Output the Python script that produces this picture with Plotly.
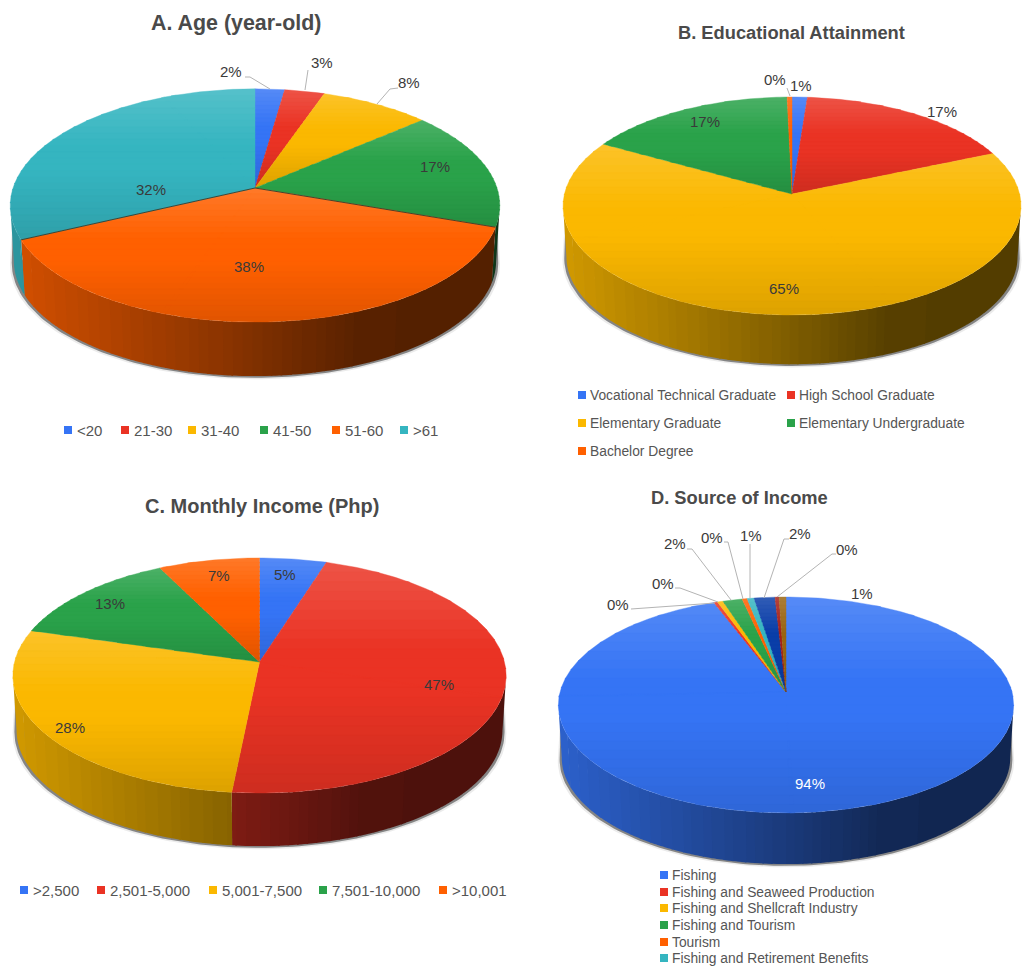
import math
import plotly.graph_objects as go

# ---------- data ----------
AGE_CATEGORIES = ["<20", "21-30", "31-40", "41-50", "51-60", ">61"]
AGE_VALUES = [2.25, 3.05, 8.4, 16.6, 37.7, 32.0]

EDU_CATEGORIES = ["Vocational Technical Graduate", "High School Graduate", "Elementary Graduate",
                  "Elementary Undergraduate", "Bachelor Degree"]
EDU_VALUES = [1.2, 17.4, 64.51, 16.51, 0.38]

INCOME_CATEGORIES = [">2,500", "2,501-5,000", "5,001-7,500", "7,501-10,000", ">10,001"]
INCOME_VALUES = [4.9, 46.7, 27.9, 13.1, 7.4]

SOURCE_CATEGORIES = ["Fishing", "Fishing and Seaweed Production", "Fishing and Shellcraft Industry",
                     "Fishing and Tourism", "Tourism", "Fishing and Retirement Benefits"]
SOURCE_VALUES = [94.22, 0.3, 0.45, 1.55, 0.4, 0.55, 1.66, 0.32, 0.55]

COLORS = ["#3574f5", "#ea3324", "#fbb800", "#2aa24a", "#ff6000", "#35b5c0", "#0a3ea8", "#a52018", "#9a6510"]

# ---------- layout of each drawing ----------
CHARTS = [
    dict(values=AGE_VALUES, cx=255, apex=188, rx=242, ry=114, k=0.15, depth=56, edged=4,
         title="A. Age (year-old)", tx=236, ty=23, tsize=21.4,
         labels=[(231, 71), (322, 62), (409, 82), (435, 166), (249, 266), (151, 189)],
         leaders=[[(245, 77), (250, 77), (270, 89)], [(308, 70), (305, 90)], [(398, 88), (390, 89), (377, 104)]]),
    dict(values=EDU_VALUES, cx=792, apex=194, rx=227.6, ry=107.7, k=0.11, depth=51, edged=None,
         title="B. Educational Attainment", tx=791, ty=32, tsize=18.3,
         labels=[(801, 85), (942, 111), (784, 288), (705, 121), (775, 79)],
         leaders=[[(787, 88), (790, 96)]]),
    dict(values=INCOME_VALUES, cx=259.5, apex=662, rx=245, ry=116, k=0.115, depth=55, edged=None,
         title="C. Monthly Income (Php)", tx=262, ty=506, tsize=20,
         labels=[(285, 574), (439, 684), (70, 727), (110, 603), (219, 575)],
         leaders=[]),
    dict(values=SOURCE_VALUES, cx=786, apex=692, rx=226, ry=106.4, k=0.12, depth=53, edged=None,
         title="D. Source of Income", tx=739, ty=497, tsize=18.3,
         labels=[(810, 783), (618, 604), (663, 583), (675, 543), (712, 537), (751, 535), (800, 533), (847, 549), (862, 593)],
         leaders=[[(631, 609), (715, 603)], [(675, 588), (680, 588), (718, 602)],
                  [(687, 549), (692, 549), (731, 600)], [(724, 542), (728, 542), (743, 599)],
                  [(750, 544), (750, 598)], [(789, 539), (784, 539), (764, 598)],
                  [(836, 554), (832, 554), (777, 597)]]),
]

LEGENDS = [
    (AGE_CATEGORIES, 15, 7, [(68, 430), (125, 430), (192, 430), (264, 430), (336, 430), (404, 430)]),
    (EDU_CATEGORIES, 13.8, 6, [(582, 395), (791, 395), (582, 423), (791, 423), (582, 451)]),
    (INCOME_CATEGORIES, 15, 7, [(24, 890), (101, 890), (213, 890), (323, 890), (443, 890)]),
    (SOURCE_CATEGORIES, 13.8, 6, [(664, 875), (664, 892), (664, 908), (664, 925), (664, 942), (664, 958)]),
]

FONT = "Liberation Sans"
fig = go.Figure()


def rgb(h):
    return tuple(int(h[i:i + 2], 16) for i in (1, 3, 5))


def hexs(c):
    return "#%02x%02x%02x" % tuple(max(0, min(255, int(round(v)))) for v in c)


def project(ch, t):
    """Perspective view of the pie's unit circle; t in degrees clockwise from the top."""
    x, y = math.sin(math.radians(t)), math.cos(math.radians(t))
    d = 1 + ch["k"] * y
    return ch["cx"] + ch["rx"] * x / d, ch["apex"] - ch["ry"] * y / d


def lower(ch, p, s=0.985):
    cy = ch["apex"]
    return ch["cx"] + (p[0] - ch["cx"]) * s, cy + (p[1] - cy) * s + ch["depth"]


def clip(poly, limit, keep_below):
    out = []
    n = len(poly)
    for i in range(n):
        a, b = poly[i], poly[(i + 1) % n]
        ina = a[1] >= limit if keep_below else a[1] <= limit
        inb = b[1] >= limit if keep_below else b[1] <= limit
        if ina:
            out.append(a)
        if ina != inb:
            f = (limit - a[1]) / (b[1] - a[1])
            out.append((a[0] + f * (b[0] - a[0]), limit))
    return out


def add_poly(polys, color, line=0.0):
    xs, ys = [], []
    for p in polys:
        xs += [q[0] for q in p] + [p[0][0], None]
        ys += [q[1] for q in p] + [p[0][1], None]
    fig.add_trace(go.Scatter(x=xs, y=ys, mode="lines", fill="toself", fillcolor=color,
                             line=dict(color=color, width=line), hoverinfo="skip", showlegend=False))


def top_color(base, v):
    c = rgb(base)
    if v < 0.38:
        m = 0.16 * (1 - v / 0.38)
        return hexs([ci + (255 - ci) * m for ci in c])
    if v > 0.55:
        m = 1 - 0.12 * (v - 0.55) / 0.45
        return hexs([ci * m for ci in c])
    return hexs(c)


def wall_factor(u):
    pts = [(0, 0.83), (0.5, 0.5), (0.72, 0.34), (1, 0.33)]
    for (a, fa), (b, fb) in zip(pts, pts[1:]):
        if u <= b:
            return fa + (fb - fa) * (u - a) / (b - a)
    return 0.33


for ch in CHARTS:
    total = sum(ch["values"])
    spans, acc = [], 0.0
    for v in ch["values"]:
        spans.append((acc / total * 360, (acc + v) / total * 360))
        acc += v
    tr = math.degrees(math.acos(-ch["k"]))
    tl = 360 - tr
    halfw = ch["rx"] / math.sqrt(1 - ch["k"] ** 2)
    left = ch["cx"] - halfw

    # soft shadow under the side wall
    arc = [lower(ch, project(ch, tr + i * (tl - tr) / 120)) for i in range(121)]
    for grow, col in ((4, "rgba(90,90,90,0.12)"), (2.2, "rgba(50,50,50,0.55)")):
        sh = []
        for x, y in arc:
            dirx = (x - ch["cx"]) / halfw
            sh.append((x + dirx * grow, y + grow * 0.8))
        up = [(x + (x - ch["cx"]) / halfw * grow * 0.5, y - ch["depth"] * 0.6) for x, y in arc[::-1]]
        add_poly([sh + up], col)

    # side wall, strip by strip with a left-to-right darkening
    for i, (t0, t1) in enumerate(spans):
        a, b = max(t0, tr), min(t1, tl)
        if a >= b:
            continue
        groups = {}
        steps = max(1, int((b - a) / 1.0))
        for s in range(steps):
            ta = a + (b - a) * s / steps
            tb = a + (b - a) * (s + 1) / steps
            pa, pb = project(ch, ta), project(ch, min(b, tb + 0.35))
            u = ((pa[0] + pb[0]) / 2 - left) / (2 * halfw)
            lev = round(wall_factor(u) / 0.015)
            groups.setdefault(lev, []).append([pa, pb, lower(ch, pb), lower(ch, pa)])
        base = rgb(COLORS[i % len(COLORS)])
        for lev, polys in groups.items():
            add_poly(polys, hexs([c * lev * 0.015 for c in base]))

    # top face: each slice carries its own vertical gradient
    nb = 24
    apex_pt = (ch["cx"], ch["apex"])
    for i, (t0, t1) in enumerate(spans):
        n = max(2, int((t1 - t0) / 1.0))
        arc_pts = [project(ch, t0 + (t1 - t0) * j / n) for j in range(n + 1)]
        ys = [apex_pt[1]] + [p[1] for p in arc_pts]
        ymin, ymax = min(ys), max(ys)
        # split wide slices into convex, slightly overlapping sub-wedges so band clipping stays clean
        chunk = max(1, int(90 / ((t1 - t0) / n)))
        subs = [[apex_pt] + arc_pts[j:j + chunk + 2] for j in range(0, n, chunk)]
        for b in range(nb):
            y0 = ymin + (ymax - ymin) * b / nb
            y1 = ymin + (ymax - ymin) * (b + 1) / nb + 0.8
            pieces = []
            for sub in subs:
                piece = clip(clip(sub, y0, True), y1, False)
                if len(piece) >= 3:
                    pieces.append(piece)
            if pieces:
                add_poly(pieces, top_color(COLORS[i % len(COLORS)], (b + 0.5) / nb), 0.4)

    # thin dark seam along a slice sitting on top of its neighbours
    if ch["edged"] is not None:
        t0, t1 = spans[ch["edged"]]
        p0, p1 = project(ch, t0), project(ch, t1)
        fig.add_trace(go.Scatter(x=[p0[0], apex_pt[0], p1[0]], y=[p0[1], apex_pt[1], p1[1]], mode="lines",
                                 line=dict(color="#3a3a2a", width=0.9), hoverinfo="skip", showlegend=False))

    # leaders
    for seg in ch["leaders"]:
        fig.add_trace(go.Scatter(x=[p[0] for p in seg], y=[p[1] for p in seg], mode="lines",
                                 line=dict(color="#b4b4b4", width=1), hoverinfo="skip", showlegend=False))

    # value labels
    for v, (lx, ly) in zip(ch["values"], ch["labels"]):
        share = v / total * 100
        fig.add_annotation(x=lx, y=ly, text=f"{round(share)}%", showarrow=False,
                           font=dict(family=FONT, size=15, color="#ffffff" if share > 90 else "#3a3a3a"))

    fig.add_annotation(x=ch["tx"], y=ch["ty"], text=f"<b>{ch['title']}</b>", showarrow=False,
                       font=dict(family=FONT, size=ch["tsize"], color="#4a4a4a"))

# legends
for names, fsize, gap, spots in LEGENDS:
    for i, (name, (mx, my)) in enumerate(zip(names, spots)):
        fig.add_trace(go.Scatter(x=[mx], y=[my], mode="markers", hoverinfo="skip", showlegend=False,
                                 marker=dict(symbol="square", size=8, color=COLORS[i])))
        fig.add_annotation(x=mx + gap, y=my, text=name, showarrow=False, xanchor="left",
                           font=dict(family=FONT, size=fsize, color="#555555"))

fig.update_layout(
    width=1024, height=967, margin=dict(l=0, r=0, t=0, b=0),
    paper_bgcolor="white", plot_bgcolor="white", showlegend=False,
    xaxis=dict(range=[0, 1024], visible=False, fixedrange=True),
    yaxis=dict(range=[967, 0], visible=False, fixedrange=True),
)
fig.write_html("out.html", config={"displayModeBar": False},
               post_script="document.body.style.margin='0';document.body.style.overflow='hidden';")
